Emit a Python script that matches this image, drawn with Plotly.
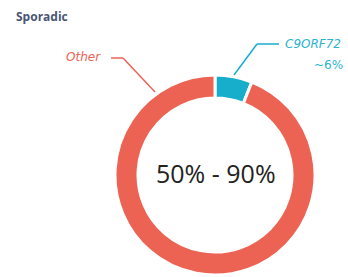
import plotly.graph_objects as go

W, H = 348, 277

title = "Sporadic"
labels = ["C9ORF72", "Other"]
values = [6, 94]
colors = ["#17AECB", "#EC6354"]
center_text = "50% - 90%"
c9_pct_text = "~6%"

def px(x):
    return x / W

def py(y):
    return 1 - y / H

fig = go.Figure()
fig.add_trace(go.Pie(
    labels=labels,
    values=values,
    hole=0.77,
    sort=False,
    direction="clockwise",
    rotation=0,
    marker=dict(colors=colors, line=dict(color="white", width=3)),
    textinfo="none",
    hoverinfo="label+percent",
    showlegend=False,
    domain=dict(x=[px(115), px(315)], y=[py(275), py(75)]),
))

shapes = [
    # Other leader
    dict(type="line", xref="paper", yref="paper", x0=px(111), y0=py(58), x1=px(123), y1=py(58),
         line=dict(color="#EC6354", width=1.5)),
    dict(type="line", xref="paper", yref="paper", x0=px(123), y0=py(58), x1=px(155), y1=py(92),
         line=dict(color="#EC6354", width=1.5)),
    # C9ORF72 leader
    dict(type="line", xref="paper", yref="paper", x0=px(279), y0=py(44), x1=px(257), y1=py(44),
         line=dict(color="#17AECB", width=1.5)),
    dict(type="line", xref="paper", yref="paper", x0=px(257), y0=py(44), x1=px(234), y1=py(75),
         line=dict(color="#17AECB", width=1.5)),
]

annotations = [
    dict(text="<b>" + title + "</b>", x=px(14), y=py(16), xref="paper", yref="paper",
         xanchor="left", yanchor="middle", showarrow=False,
         font=dict(family="Open Sans", size=12, color="#4A5573")),
    dict(text="<i>" + labels[1] + "</i>", x=px(103), y=py(57), xref="paper", yref="paper",
         xanchor="right", yanchor="middle", showarrow=False,
         font=dict(family="DejaVu Sans", size=12, color="#EC6354")),
    dict(text="<i>" + labels[0] + "</i>", x=px(283), y=py(44), xref="paper", yref="paper",
         xanchor="left", yanchor="middle", showarrow=False,
         font=dict(family="DejaVu Sans", size=12, color="#2BB3CF")),
    dict(text=c9_pct_text, x=px(345), y=py(65), xref="paper", yref="paper",
         xanchor="right", yanchor="middle", showarrow=False,
         font=dict(family="DejaVu Sans", size=12, color="#2BB3CF")),
    dict(text=center_text, x=px(216), y=py(173), xref="paper", yref="paper",
         xanchor="center", yanchor="middle", showarrow=False,
         font=dict(family="Open Sans", size=25, color="#222222")),
]

fig.update_layout(
    width=W, height=H,
    margin=dict(l=0, r=0, t=0, b=0),
    paper_bgcolor="white",
    plot_bgcolor="white",
    shapes=shapes,
    annotations=annotations,
)

fig.write_html(
    "out.html",
    config={"displayModeBar": False},
    post_script="document.body.style.margin='0';document.body.style.overflow='hidden';",
)
